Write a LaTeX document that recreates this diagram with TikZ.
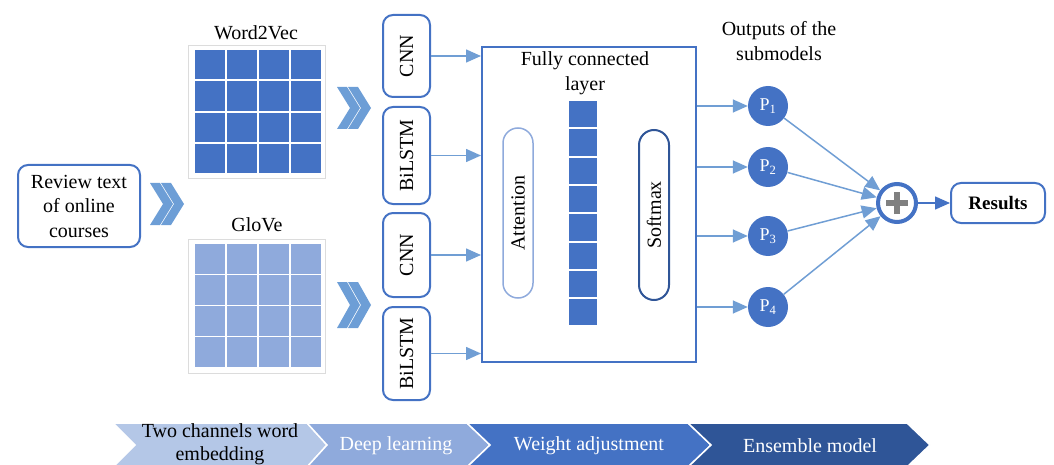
\documentclass[tikz,border=0pt]{standalone}
\usepackage{fontspec}
\setmainfont{Liberation Serif}
\usetikzlibrary{arrows.meta}
\definecolor{mainblue}{RGB}{68,114,196}
\definecolor{lightblue}{RGB}{143,170,220}
\definecolor{paleblue}{RGB}{180,199,231}
\definecolor{darkblue}{RGB}{47,85,151}
\definecolor{arrowblue}{RGB}{112,158,212}
\definecolor{chevblue}{RGB}{109,158,214}
\definecolor{gridborder}{RGB}{220,220,220}
\definecolor{plusgray}{RGB}{128,128,128}
\newcommand\dchev[3]{%
  \fill[chevblue] (#1,#2-#3) -- (#1+10,#2-#3) -- (#1+23,#2) -- (#1+10,#2+#3) -- (#1,#2+#3) -- (#1+13,#2) -- cycle;
  \fill[chevblue] (#1+11,#2-#3) -- (#1+21,#2-#3) -- (#1+34,#2) -- (#1+21,#2+#3) -- (#1+11,#2+#3) -- (#1+24,#2) -- cycle;}
\begin{document}
\begin{tikzpicture}[x=1pt,y=-1pt,
  txt/.style={font=\fontsize{20}{24.5}\selectfont, inner sep=0pt},
  rbox/.style={draw=mainblue, line width=2pt, rounded corners=10pt, fill=white},
  conn/.style={draw=arrowblue, line width=1.5pt, -{Triangle[length=15pt,width=13pt]}},
  vbox/.style={rbox, txt, rotate=90, minimum height=47pt},
  pcirc/.style={circle, fill=mainblue, minimum size=40pt, inner sep=0pt, text=white, font=\fontsize{18}{20}\selectfont},
  band/.style={draw=white, line width=1.5pt}]
\useasboundingbox (0,0) rectangle (1054,465);

% input
\node[rbox, txt, minimum width=122pt, minimum height=82pt, align=center] (review) at (79,206) {Review text\\of online\\courses};
\dchev{150}{204}{21}

% embeddings
\node[txt] (w2v) at (256,33) {Word2Vec};
\draw[gridborder, fill=white] (188,45) rectangle (325,178);
\foreach \i in {0,...,3} \foreach \j in {0,...,3}
  \fill[mainblue] (195+\i*32,50+\j*31.3) rectangle ++(30,29.5);
\node[txt] (glove) at (257,225) {GloVe};
\draw[gridborder, fill=white] (188,239) rectangle (325,373);
\foreach \i in {0,...,3} \foreach \j in {0,...,3}
  \fill[lightblue] (195+\i*32,244+\j*31) rectangle ++(30,30);
\dchev{337}{108}{21}
\dchev{337}{305}{23}

% deep learning models
\node[vbox, minimum width=82pt] (cnn1) at (406.5,56) {CNN};
\node[vbox, minimum width=97pt] (bil1) at (406.5,155.5) {BiLSTM};
\node[vbox, minimum width=84pt] (cnn2) at (406.5,255) {CNN};
\node[vbox, minimum width=93pt] (bil2) at (406.5,353.5) {BiLSTM};

% fully connected layer
\node[draw=mainblue, line width=2pt, minimum width=214pt, minimum height=315pt, inner sep=0pt] (fc) at (589,204.5) {};
\node[txt, align=center] (fctext) at (585,73) {Fully connected\\layer};
\foreach \k in {0,...,7}
  \fill[mainblue] (569,101+\k*28.3) rectangle ++(28,26.3);
\node[draw=lightblue, line width=1.5pt, rounded corners=15pt, rotate=90, minimum width=170pt, minimum height=30pt, txt] (att) at (518,213) {Attention};
\node[draw=darkblue, line width=2pt, rounded corners=15pt, rotate=90, minimum width=170pt, minimum height=30pt, txt] (soft) at (654,215) {Softmax};

\foreach \n in {cnn1,bil1,cnn2,bil2}
  \draw[conn] (\n.south) -- (\n.south -| fc.west);

% outputs
\node[txt, align=center] (outtxt) at (779,41) {Outputs of the\\submodels};
\node[pcirc] (p1) at (768,106) {P\textsubscript{1}};
\node[pcirc] (p2) at (768,167) {P\textsubscript{2}};
\node[pcirc] (p3) at (768,236) {P\textsubscript{3}};
\node[pcirc] (p4) at (768,307) {P\textsubscript{4}};
\foreach \n in {p1,p2,p3,p4}
  \draw[conn] (\n -| fc.east) -- (\n);

\node[circle, draw=mainblue, line width=4pt, fill=white, minimum size=38pt, inner sep=0pt] (plus) at (897,203) {};
\draw[plusgray, line width=6pt] ([xshift=-11pt]plus.center) -- ([xshift=11pt]plus.center);
\draw[plusgray, line width=6pt] ([yshift=-11pt]plus.center) -- ([yshift=11pt]plus.center);
\foreach \n in {p1,p2,p3,p4}
  \draw[conn] (\n) -- (plus);

\node[rbox, minimum width=94pt, minimum height=40pt, inner sep=0pt, font=\bfseries\fontsize{19}{22}\selectfont] (res) at (998,203) {Results};
\draw[conn, draw=mainblue] (plus) -- (res);

% stages
\filldraw[band, fill=paleblue] (113,423) -- (307,423) -- (327,445) -- (307,467) -- (113,467) -- (135,445) -- cycle;
\filldraw[band, fill=lightblue] (307,423) -- (467,423) -- (490,445) -- (467,467) -- (307,467) -- (327,445) -- cycle;
\filldraw[band, fill=mainblue] (467,423) -- (688,423) -- (711,445) -- (688,467) -- (467,467) -- (490,445) -- cycle;
\filldraw[band, fill=darkblue] (688,423) -- (907,423) -- (930,445) -- (907,467) -- (688,467) -- (711,445) -- cycle;
\node[txt, align=center, font=\fontsize{20}{23}\selectfont] (s1) at (220,444) {Two channels word\\embedding};
\node[txt, text=white] (s2) at (396,446) {Deep learning};
\node[txt, text=white] (s3) at (589,446) {Weight adjustment};
\node[txt, text=white] (s4) at (810,446) {Ensemble model};
\end{tikzpicture}
\end{document}
